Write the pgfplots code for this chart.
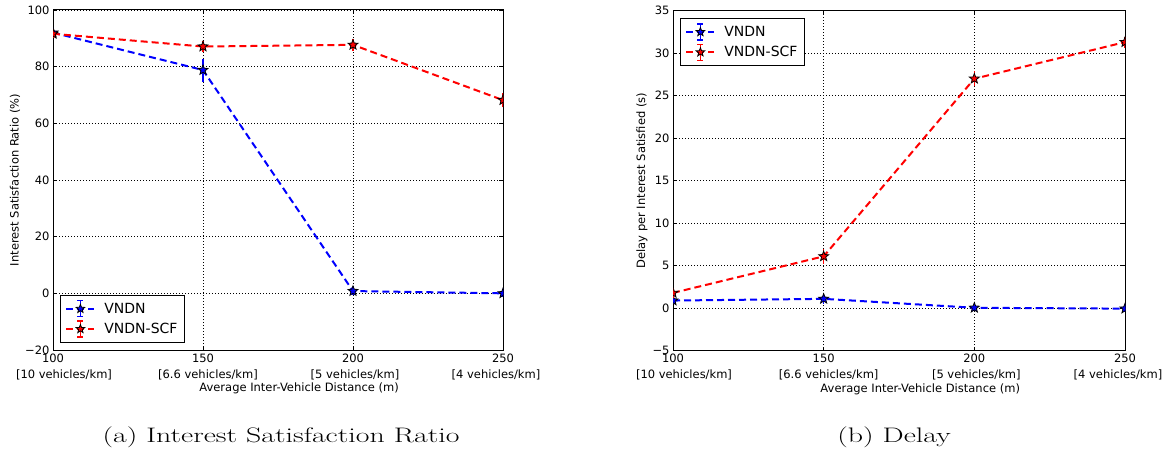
\documentclass[border=0pt]{standalone}
\usepackage{fontspec}
\usepackage{graphicx}
\usepackage{pgfplots}
\pgfplotsset{compat=1.18}
\newfontfamily\dejavu{DejaVu Sans}

\pgfdeclareplotmark{fstar}{%
  \pgfpathmoveto{\pgfqpointpolar{90}{\pgfplotmarksize}}%
  \pgfpathlineto{\pgfqpointpolar{126}{0.42\pgfplotmarksize}}%
  \pgfpathlineto{\pgfqpointpolar{162}{\pgfplotmarksize}}%
  \pgfpathlineto{\pgfqpointpolar{198}{0.42\pgfplotmarksize}}%
  \pgfpathlineto{\pgfqpointpolar{234}{\pgfplotmarksize}}%
  \pgfpathlineto{\pgfqpointpolar{270}{0.42\pgfplotmarksize}}%
  \pgfpathlineto{\pgfqpointpolar{306}{\pgfplotmarksize}}%
  \pgfpathlineto{\pgfqpointpolar{342}{0.42\pgfplotmarksize}}%
  \pgfpathlineto{\pgfqpointpolar{18}{\pgfplotmarksize}}%
  \pgfpathlineto{\pgfqpointpolar{54}{0.42\pgfplotmarksize}}%
  \pgfpathclose
  \pgfusepathqfillstroke
}

\pgfplotsset{
  base/.style={
    scale only axis, height=340pt,
    xmin=100, xmax=250, xtick={100,150,200,250},
    xticklabels={{100\\\hspace*{22pt}[10 vehicles/km]},{150\\\hspace*{10pt}[6.6 vehicles/km]},{200\\\hspace*{4pt}[5 vehicles/km]},{250\\\hspace*{-14pt}[4 vehicles/km]}},
    xticklabel style={align=center, font=\dejavu\fontsize{11.5}{16}\selectfont},
    yticklabel style={font=\dejavu\fontsize{11.5}{14}\selectfont},
    label style={font=\dejavu\fontsize{11.5}{14}\selectfont},
    xlabel={Average Inter-Vehicle Distance (m)},
    xlabel style={at={(axis description cs:0.547,0)}, anchor=north, inner sep=0pt, yshift=-33pt},
    axis line style={black, line width=1pt},
    major tick length=4pt,
    tick style={black, line width=0.8pt},
    grid=major,
    major grid style={black, line width=0.6pt, dash pattern=on 1pt off 2pt},
    clip marker paths=true,
    legend style={draw=black, line width=0.8pt, fill=white, font=\dejavu\fontsize{14}{16}\selectfont, inner xsep=5pt, inner ysep=5pt, row sep=3pt,
      /tikz/every odd column/.append style={column sep=7pt}},
    legend cell align=left,
  },
  vndn/.style={blue, line width=2pt, dash pattern=on 7pt off 4pt,
    mark=fstar, mark size=5.2pt, mark options={solid, fill=blue, draw=black, line width=0.8pt},
    error bars/y dir=both, error bars/y explicit,
    error bars/error bar style={blue, line width=1.2pt, solid},
    error bars/error mark options={blue, mark size=3pt, line width=1.2pt, solid}},
  scf/.style={red, line width=2pt, dash pattern=on 7pt off 4pt,
    mark=fstar, mark size=5.2pt, mark options={solid, fill=red, draw=black, line width=0.8pt},
    error bars/y dir=both, error bars/y explicit,
    error bars/error bar style={red, line width=1.2pt, solid},
    error bars/error mark options={red, mark size=3pt, line width=1.2pt, solid}},
  vndnleg/.style={legend image code/.code={
    \draw[blue, line width=2pt, dash pattern=on 7pt off 4pt] (0pt,0pt) -- (28pt,0pt);
    \draw[blue, line width=1.2pt] (14pt,-8pt) -- (14pt,8pt) (11pt,-8pt) -- (17pt,-8pt) (11pt,8pt) -- (17pt,8pt);
    \draw[black, fill=blue, line width=0.8pt, mark=fstar, mark size=4.5pt, only marks] plot coordinates {(14pt,0pt)};
  }},
  scfleg/.style={legend image code/.code={
    \draw[red, line width=2pt, dash pattern=on 7pt off 4pt] (0pt,0pt) -- (28pt,0pt);
    \draw[red, line width=1.2pt] (14pt,-8pt) -- (14pt,8pt) (11pt,-8pt) -- (17pt,-8pt) (11pt,8pt) -- (17pt,8pt);
    \draw[black, fill=red, line width=0.8pt, mark=fstar, mark size=4.5pt, only marks] plot coordinates {(14pt,0pt)};
  }},
}

\begin{document}
\begin{tikzpicture}
\path[use as bounding box] (0pt,0pt) rectangle (1172pt,-454pt);

\begin{axis}[base, width=450pt, at={(53pt,-350pt)}, anchor=south west,
  ymin=-20, ymax=100, ytick={-20,0,20,40,60,80,100},
  yticklabels={−20,0,20,40,60,80,100},
  ylabel={Interest Satisfaction Ratio (\%)},
  ylabel style={at={(axis description cs:-0.0844,0.5)}, anchor=center},
  legend style={at={(axis description cs:0.0156,0.0206)}, anchor=south west},
]
\addplot[vndnleg, vndn] coordinates {(100,92.0) +- (0,0.6) (150,78.8) +- (0,3.0) (200,0.8) +- (0,0.4) (250,0.0) +- (0,0.1)};
\addlegendentry{VNDN}
\addplot[scfleg, scf] coordinates {(100,91.6) +- (0,0.6) (150,87.1) +- (0,1.0) (200,87.7) +- (0,1.0) (250,68.2) +- (0,1.5)};
\addlegendentry{VNDN-SCF}
\end{axis}

\begin{axis}[base, width=452pt, at={(673pt,-350.7pt)}, anchor=south west,
  ymin=-5, ymax=35, ytick={-5,0,5,10,15,20,25,30,35},
  yticklabels={−5,0,5,10,15,20,25,30,35},
  ylabel={Delay per Interest Satisfied (s)},
  ylabel style={at={(axis description cs:-0.0686,0.5)}, anchor=center},
  legend style={at={(axis description cs:0.0155,0.9785)}, anchor=north west},
]
\addplot[vndnleg, vndn] coordinates {(100,0.9) +- (0,0.1) (150,1.1) +- (0,0.2) (200,0.05) +- (0,0.05) (250,-0.05) +- (0,0.05)};
\addlegendentry{VNDN}
\addplot[scfleg, scf] coordinates {(100,1.8) +- (0,0.2) (150,6.1) +- (0,0.5) (200,27.0) +- (0,0.55) (250,31.3) +- (0,0.3)};
\addlegendentry{VNDN-SCF}
\end{axis}

\node[font=\fontsize{21}{25}\selectfont, anchor=base] at (281pt,-442pt) {\scalebox{1.42}[1]{(a) Interest Satisfaction Ratio}};
\node[font=\fontsize{21}{25}\selectfont, anchor=base] at (894pt,-442pt) {\scalebox{1.42}[1]{(b) Delay}};
\end{tikzpicture}
\end{document}
